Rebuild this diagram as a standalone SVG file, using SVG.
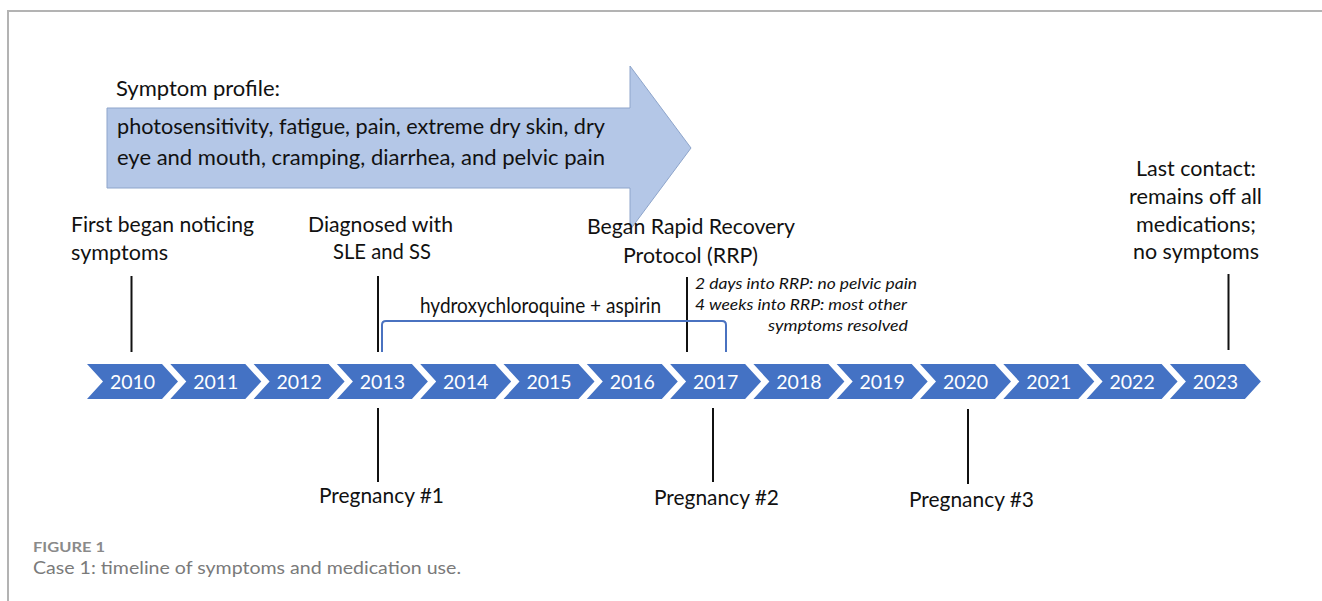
<svg xmlns="http://www.w3.org/2000/svg" xmlns:xlink="http://www.w3.org/1999/xlink" width="1322" height="601" viewBox="0 0 1322 601">
<style>
.t{font-family:Lato,"Liberation Sans",sans-serif;font-size:22px;fill:#111}
.it{font-family:Lato,"Liberation Sans",sans-serif;font-size:15.5px;font-style:italic;fill:#111}
.yr{font-family:Lato,"Liberation Sans",sans-serif;font-size:19.5px;fill:#fff;text-anchor:middle}
.chev{fill:#4472c4}
.vl{stroke:#111;stroke-width:2;fill:none}
.frame{stroke:#b3b3b3;stroke-width:2;fill:none}
</style>
<defs>
<path id="chev" d="M0,0 H75 L91,17.5 L75,35 H0 L16,17.5 Z"/>
</defs>
<rect width="1322" height="601" fill="#fff"/>
<path class="frame" d="M8,601 V11 H1322"/>

<g id="symptom-profile">
<path d="M107,108 H630 V66 L691,148 L630,230 V188 H107 Z" fill="#b4c7e7" stroke="#8ea5cb" stroke-width="1"/>
<text class="t" x="116" y="96" textLength="164" lengthAdjust="spacingAndGlyphs">Symptom profile:</text>
<text class="t" x="117" y="134" textLength="488" lengthAdjust="spacingAndGlyphs">photosensitivity, fatigue, pain, extreme dry skin, dry</text>
<text class="t" x="117" y="165" textLength="488" lengthAdjust="spacingAndGlyphs">eye and mouth, cramping, diarrhea, and pelvic pain</text>
</g>

<g id="timeline">
<g id="y2010"><use href="#chev" class="chev" x="87" y="364"/><text class="yr" x="132.5" y="388.5">2010</text></g>
<g id="y2011"><use href="#chev" class="chev" x="170.3" y="364"/><text class="yr" x="215.8" y="388.5">2011</text></g>
<g id="y2012"><use href="#chev" class="chev" x="253.6" y="364"/><text class="yr" x="299.1" y="388.5">2012</text></g>
<g id="y2013"><use href="#chev" class="chev" x="336.9" y="364"/><text class="yr" x="382.4" y="388.5">2013</text></g>
<g id="y2014"><use href="#chev" class="chev" x="420.2" y="364"/><text class="yr" x="465.7" y="388.5">2014</text></g>
<g id="y2015"><use href="#chev" class="chev" x="503.5" y="364"/><text class="yr" x="549" y="388.5">2015</text></g>
<g id="y2016"><use href="#chev" class="chev" x="586.8" y="364"/><text class="yr" x="632.3" y="388.5">2016</text></g>
<g id="y2017"><use href="#chev" class="chev" x="670.1" y="364"/><text class="yr" x="715.6" y="388.5">2017</text></g>
<g id="y2018"><use href="#chev" class="chev" x="753.4" y="364"/><text class="yr" x="798.9" y="388.5">2018</text></g>
<g id="y2019"><use href="#chev" class="chev" x="836.7" y="364"/><text class="yr" x="882.2" y="388.5">2019</text></g>
<g id="y2020"><use href="#chev" class="chev" x="920" y="364"/><text class="yr" x="965.5" y="388.5">2020</text></g>
<g id="y2021"><use href="#chev" class="chev" x="1003.3" y="364"/><text class="yr" x="1048.8" y="388.5">2021</text></g>
<g id="y2022"><use href="#chev" class="chev" x="1086.6" y="364"/><text class="yr" x="1132.1" y="388.5">2022</text></g>
<g id="y2023"><use href="#chev" class="chev" x="1169.9" y="364"/><text class="yr" x="1215.4" y="388.5">2023</text></g>
</g>

<g id="connectors">
<line class="vl" x1="131.5" y1="276" x2="131.5" y2="352"/>
<line class="vl" x1="378" y1="276" x2="378" y2="352"/>
<line class="vl" x1="378" y1="408" x2="378" y2="482"/>
<line class="vl" x1="687" y1="277" x2="687" y2="352"/>
<line class="vl" x1="713" y1="408" x2="713" y2="482"/>
<line class="vl" x1="968" y1="409" x2="968" y2="484"/>
<line class="vl" x1="1228.5" y1="274" x2="1228.5" y2="350"/>
<path d="M382,352 V325 Q382,321 386,321 H722 Q726,321 726,325 V352" fill="none" stroke="#4a72c0" stroke-width="2"/>
</g>

<g id="ev-first">
<text class="t" x="71" y="232" textLength="183" lengthAdjust="spacingAndGlyphs">First began noticing</text>
<text class="t" x="71" y="260" textLength="97" lengthAdjust="spacingAndGlyphs">symptoms</text>
</g>
<g id="ev-diagnosed">
<text class="t" x="308" y="232" textLength="145" lengthAdjust="spacingAndGlyphs">Diagnosed with</text>
<text class="t" x="333" y="259" textLength="98" lengthAdjust="spacingAndGlyphs">SLE and SS</text>
</g>
<g id="ev-rrp">
<text class="t" x="587" y="234" textLength="208" lengthAdjust="spacingAndGlyphs">Began Rapid Recovery</text>
<text class="t" x="623" y="263" textLength="135" lengthAdjust="spacingAndGlyphs">Protocol (RRP)</text>
</g>
<g id="ev-rrp-notes">
<text class="it" x="695" y="289" textLength="222" lengthAdjust="spacingAndGlyphs">2 days into RRP: no pelvic pain</text>
<text class="it" x="695" y="310" textLength="212" lengthAdjust="spacingAndGlyphs">4 weeks into RRP: most other</text>
<text class="it" x="768" y="331" textLength="140" lengthAdjust="spacingAndGlyphs">symptoms resolved</text>
</g>
<g id="medication">
<text class="t" x="420" y="313" font-size="20" textLength="241" lengthAdjust="spacingAndGlyphs">hydroxychloroquine + aspirin</text>
</g>
<g id="ev-last">
<text class="t" x="1136" y="176" textLength="120" lengthAdjust="spacingAndGlyphs">Last contact:</text>
<text class="t" x="1129" y="204" textLength="133" lengthAdjust="spacingAndGlyphs">remains off all</text>
<text class="t" x="1136" y="232" textLength="120" lengthAdjust="spacingAndGlyphs">medications;</text>
<text class="t" x="1133" y="259" textLength="126" lengthAdjust="spacingAndGlyphs">no symptoms</text>
</g>
<g id="preg1"><text class="t" x="319" y="503" textLength="125" lengthAdjust="spacingAndGlyphs">Pregnancy #1</text></g>
<g id="preg2"><text class="t" x="654" y="505" textLength="125" lengthAdjust="spacingAndGlyphs">Pregnancy #2</text></g>
<g id="preg3"><text class="t" x="909" y="507" textLength="125" lengthAdjust="spacingAndGlyphs">Pregnancy #3</text></g>

<g id="caption">
<text x="33" y="552" font-family="Lato,'Liberation Sans',sans-serif" font-size="13" font-weight="bold" fill="#8a8a8a" textLength="72" lengthAdjust="spacingAndGlyphs">FIGURE 1</text>
<text x="33" y="574" font-family="Lato,'Liberation Sans',sans-serif" font-size="17" fill="#7a7a7a" textLength="428" lengthAdjust="spacingAndGlyphs">Case 1: timeline of symptoms and medication use.</text>
</g>
</svg>
